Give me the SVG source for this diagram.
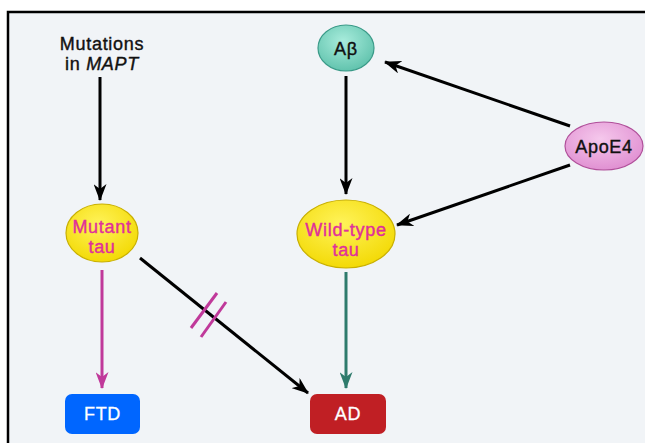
<svg xmlns="http://www.w3.org/2000/svg" width="645" height="443" viewBox="0 0 645 443">
<style>
.t{font-family:"Liberation Sans",Arial,sans-serif;font-size:18px;text-anchor:middle;letter-spacing:0.7px;fill:#111;stroke:#111;stroke-width:0.4}
.blk{stroke:#000;stroke-width:3;fill:none}
.mag{stroke:#c0399a;stroke-width:3;fill:none}
.teal{stroke:#2e7b6c;stroke-width:3;fill:none}
.tau{fill:url(#yg);stroke:#c9b000;stroke-width:1.2}
.taut{fill:#e0309a;stroke:#e0309a}
.wt{fill:#fff;stroke:#fff;stroke-width:0.3;font-size:18px}
</style>
<defs>
<radialGradient id="yg" cx="0.45" cy="0.35" r="0.7"><stop offset="0" stop-color="#fff35a"/><stop offset="1" stop-color="#f2d800"/></radialGradient>
<radialGradient id="tg" cx="0.45" cy="0.35" r="0.7"><stop offset="0" stop-color="#a8ecdc"/><stop offset="1" stop-color="#5cc0aa"/></radialGradient>
<radialGradient id="pg" cx="0.45" cy="0.35" r="0.7"><stop offset="0" stop-color="#f5c8ec"/><stop offset="1" stop-color="#df8cd0"/></radialGradient>
<marker id="ak" markerWidth="17" markerHeight="13" refX="16" refY="6.5" orient="auto" markerUnits="userSpaceOnUse"><path d="M0,0 L17,6.5 L0,13 L5,6.5 Z" fill="#000"/></marker>
<marker id="am" markerWidth="17" markerHeight="13" refX="16" refY="6.5" orient="auto" markerUnits="userSpaceOnUse"><path d="M0,0 L17,6.5 L0,13 L5,6.5 Z" fill="#c0399a"/></marker>
<marker id="at" markerWidth="17" markerHeight="13" refX="16" refY="6.5" orient="auto" markerUnits="userSpaceOnUse"><path d="M0,0 L17,6.5 L0,13 L5,6.5 Z" fill="#2e7b6c"/></marker>
</defs>
<rect x="0" y="0" width="645" height="443" fill="#fff"/>
<rect x="8" y="12" width="660" height="450" fill="#f1f4f7" stroke="#000" stroke-width="2.5"/>
<g id="connectors">
<line class="blk" x1="100" y1="77" x2="100" y2="200" marker-end="url(#ak)"/>
<line class="blk" x1="346" y1="76" x2="346" y2="194" marker-end="url(#ak)"/>
<line class="blk" x1="570" y1="126" x2="385" y2="62" marker-end="url(#ak)"/>
<line class="blk" x1="570" y1="165" x2="397" y2="225" marker-end="url(#ak)"/>
<line class="mag" x1="102" y1="270" x2="102" y2="388" marker-end="url(#am)"/>
<line class="teal" x1="346" y1="272" x2="346" y2="388" marker-end="url(#at)"/>
<line class="blk" x1="140" y1="258" x2="308" y2="393" marker-end="url(#ak)"/>
<line class="mag" x1="191" y1="328" x2="217" y2="293"/>
<line class="mag" x1="201" y1="337" x2="226" y2="302"/>
</g>
<g id="mutations">
<text class="t" x="102" y="50">Mutations</text>
<text class="t" x="102" y="70">in <tspan font-style="italic">MAPT</tspan></text>
</g>
<g id="abeta">
<ellipse cx="346" cy="48" rx="28" ry="23" fill="url(#tg)" stroke="#3a9a88" stroke-width="1.2"/>
<text class="t" x="346" y="55">Aβ</text>
</g>
<g id="apoe4">
<ellipse cx="604" cy="146" rx="39" ry="24" fill="url(#pg)" stroke="#b0509a" stroke-width="1.2"/>
<text class="t" x="604" y="153">ApoE4</text>
</g>
<g id="mutant-tau">
<ellipse class="tau" cx="102" cy="233" rx="36" ry="29"/>
<text class="t taut" x="102" y="233">Mutant</text>
<text class="t taut" x="102" y="253">tau</text>
</g>
<g id="wildtype-tau">
<ellipse class="tau" cx="346" cy="234" rx="49" ry="34"/>
<text class="t taut" x="346" y="236">Wild-type</text>
<text class="t taut" x="346" y="256">tau</text>
</g>
<g id="ftd">
<rect x="65" y="394" width="75" height="40" rx="7" fill="#0066ff"/>
<text class="t wt" x="102.5" y="420">FTD</text>
</g>
<g id="ad">
<rect x="310" y="394" width="76" height="40" rx="7" fill="#c01f24"/>
<text class="t wt" x="348" y="420">AD</text>
</g>
</svg>
